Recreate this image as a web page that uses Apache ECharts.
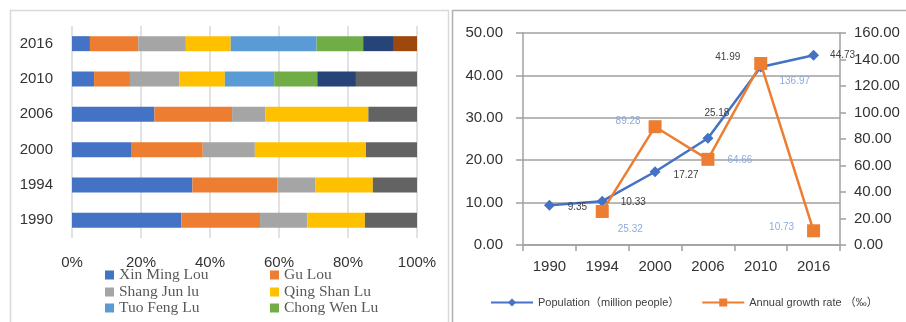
<!DOCTYPE html>
<html>
<head>
<meta charset="utf-8">
<title>Population chart</title>
<script src="https://cdn.jsdelivr.net/npm/echarts@6/dist/echarts.min.js"></script>
<style>
  html, body { margin: 0; padding: 0; background: #fff; }
  #main { width: 906px; height: 322px; }
</style>
</head>
<body>
<div id="main"></div>
<script>
// 数据
var years = ['1990', '1994', '2000', '2006', '2010', '2016'];

// 左图：各街道人口占比 (%)
var xinMingLou = [31.7, 34.9, 17.3, 23.9, 6.4, 5.2];
var guLou = [22.8, 24.7, 20.6, 22.5, 10.4, 14.0];
var shangJunLu = [13.7, 11.0, 15.1, 9.6, 14.3, 13.8];
var qingShanLu = [16.7, 16.6, 32.2, 29.9, 13.2, 13.0];
var tuoFengLu = [null, null, null, null, 14.3, 24.9];
var chongWenLu = [null, null, null, null, 12.5, 13.5];
var series7 = [null, null, null, null, 11.2, 8.9];
var series8 = [null, null, null, null, null, 6.7];
var series9 = [15.1, 12.8, 14.8, 14.1, 17.7, null];
var percentTicks = [0, 20, 40, 60, 80, 100];

// 右图：人口与年增长率
var population = [9.35, 10.33, 17.27, 25.18, 41.99, 44.73];
var growthRate = [null, 25.32, 89.28, 64.66, 136.97, 10.73];

// 标签偏移 (样式)
var popLabelOffset = [[28, 2], [31, 1], [31, 3], [9, -25], [-33, -10], [29, 0]];
var rateLabelOffset = [null, [28, 18], [-27, -5], [32, 1], [34, 18], [-32, -4]];

var barColors = ['#4472C4', '#ED7D31', '#A5A5A5', '#FFC000', '#5B9BD5',
  '#70AD47', '#264478', '#9E480E', '#636363'];
var barNames = ['Xin Ming Lou', 'Gu Lou', 'Shang Jun lu', 'Qing Shan Lu',
  'Tuo Feng Lu', 'Chong Wen Lu', 'Series 7', 'Series 8', 'Series 9'];
var barData = [xinMingLou, guLou, shangJunLu, qingShanLu, tuoFengLu,
  chongWenLu, series7, series8, series9];

var font = '"Liberation Sans", "Noto Sans CJK SC", sans-serif';
var axisText = { color: '#333', fontSize: 15, fontFamily: font };

function withLabels(values, offsets, color) {
  var out = [];
  for (var i = 0; i < values.length; i++) {
    if (values[i] == null) {
      out.push(null);
      continue;
    }
    out.push({
      value: values[i],
      label: {
        show: true,
        position: 'inside',
        offset: offsets[i],
        color: color,
        fontSize: 10,
        fontFamily: font,
        formatter: function(p) { return p.value.toFixed(2); }
      }
    });
  }
  return out;
}

var series = [];
for (var i = 0; i < barNames.length; i++) {
  series.push({
    name: barNames[i],
    type: 'bar',
    stack: 'share',
    xAxisIndex: 0,
    yAxisIndex: 0,
    barWidth: 15,
    itemStyle: { color: barColors[i] },
    data: barData[i]
  });
}

series.push({
  name: 'Population（million people）',
  type: 'line',
  xAxisIndex: 1,
  yAxisIndex: 1,
  symbol: 'diamond',
  symbolSize: 11,
  lineStyle: { width: 2.5, color: '#4472C4' },
  itemStyle: { color: '#4472C4' },
  data: withLabels(population, popLabelOffset, '#404040'),
  z: 3
});
series.push({
  name: 'Annual growth rate （‰）',
  type: 'line',
  xAxisIndex: 1,
  yAxisIndex: 2,
  symbol: 'rect',
  symbolSize: 13,
  lineStyle: { width: 2.5, color: '#ED7D31' },
  itemStyle: { color: '#ED7D31' },
  data: withLabels(growthRate, rateLabelOffset, '#8FAADC'),
  z: 4
});

// 左图图例：两列三行，每项单独放
var legendText = { color: '#595959', fontSize: 15.5, lineHeight: 16,
  fontFamily: '"Liberation Serif", serif' };
var legendSpots = [[105, 267], [270, 267], [105, 284], [270, 284], [105, 300], [270, 300]];
var legends = [];
for (var k = 0; k < 6; k++) {
  legends.push({
    data: [barNames[k]],
    left: legendSpots[k][0],
    top: legendSpots[k][1],
    padding: 0,
    itemWidth: 9,
    itemHeight: 9,
    itemGap: 0,
    icon: 'rect',
    textStyle: legendText
  });
}
legends.push({
  data: ['Population（million people）', 'Annual growth rate （‰）'],
  left: 490, top: 297, padding: 0, itemWidth: 42, itemHeight: 10, itemGap: 22,
  textStyle: { color: '#404040', fontSize: 11, fontFamily: font }
});

var gridGray = '#a0a0a0';

var option = {
  backgroundColor: '#fff',
  animation: false,
  graphic: [
    { type: 'rect', shape: { x: 10.5, y: 10.5, width: 438, height: 330 },
      style: { fill: 'none', stroke: '#d9d9d9', lineWidth: 1.5 } },
    { type: 'rect', shape: { x: 452.5, y: 10.5, width: 470, height: 330 },
      style: { fill: 'none', stroke: '#b0b0b0', lineWidth: 1.5 } }
  ],
  grid: [
    { left: 72, top: 26, width: 345, height: 212 },
    { left: 523, top: 33, width: 317, height: 212 }
  ],
  legend: legends,
  xAxis: [
    { type: 'value', gridIndex: 0, min: 0, max: 100, interval: 20,
      axisLine: { show: false }, axisTick: { show: false },
      axisLabel: Object.assign({ margin: 17, formatter: '{value}%' }, axisText),
      splitLine: { lineStyle: { color: '#d9d9d9', width: 1.5 } } },
    { type: 'category', gridIndex: 1, data: years, boundaryGap: true,
      axisLine: { lineStyle: { color: gridGray, width: 1.5 } },
      axisTick: { show: true, length: 6, lineStyle: { color: gridGray, width: 1.5 } },
      axisLabel: Object.assign({ margin: 14 }, axisText) }
  ],
  yAxis: [
    { type: 'category', gridIndex: 0, data: years,
      axisLine: { show: false }, axisTick: { show: false },
      axisLabel: Object.assign({ margin: 19 }, axisText) },
    { type: 'value', gridIndex: 1, min: 0, max: 50, interval: 10,
      axisLine: { show: true, lineStyle: { color: gridGray, width: 1.5 } },
      axisTick: { show: true, length: 7, lineStyle: { color: gridGray, width: 1.5 } },
      axisLabel: Object.assign({ margin: 20,
        formatter: function(v) { return v.toFixed(2); } }, axisText),
      splitLine: { lineStyle: { color: gridGray, width: 1.5 } } },
    { type: 'value', gridIndex: 1, position: 'right', min: 0, max: 160, interval: 20,
      axisLine: { show: true, lineStyle: { color: gridGray, width: 1.5 } },
      axisTick: { show: true, length: 6, lineStyle: { color: gridGray, width: 1.5 } },
      axisLabel: Object.assign({ margin: 14,
        formatter: function(v) { return v.toFixed(2); } }, axisText),
      splitLine: { show: false } }
  ],
  series: series
};

var myChart = echarts.init(document.getElementById('main'));
myChart.setOption(option);
</script>
</body>
</html>
